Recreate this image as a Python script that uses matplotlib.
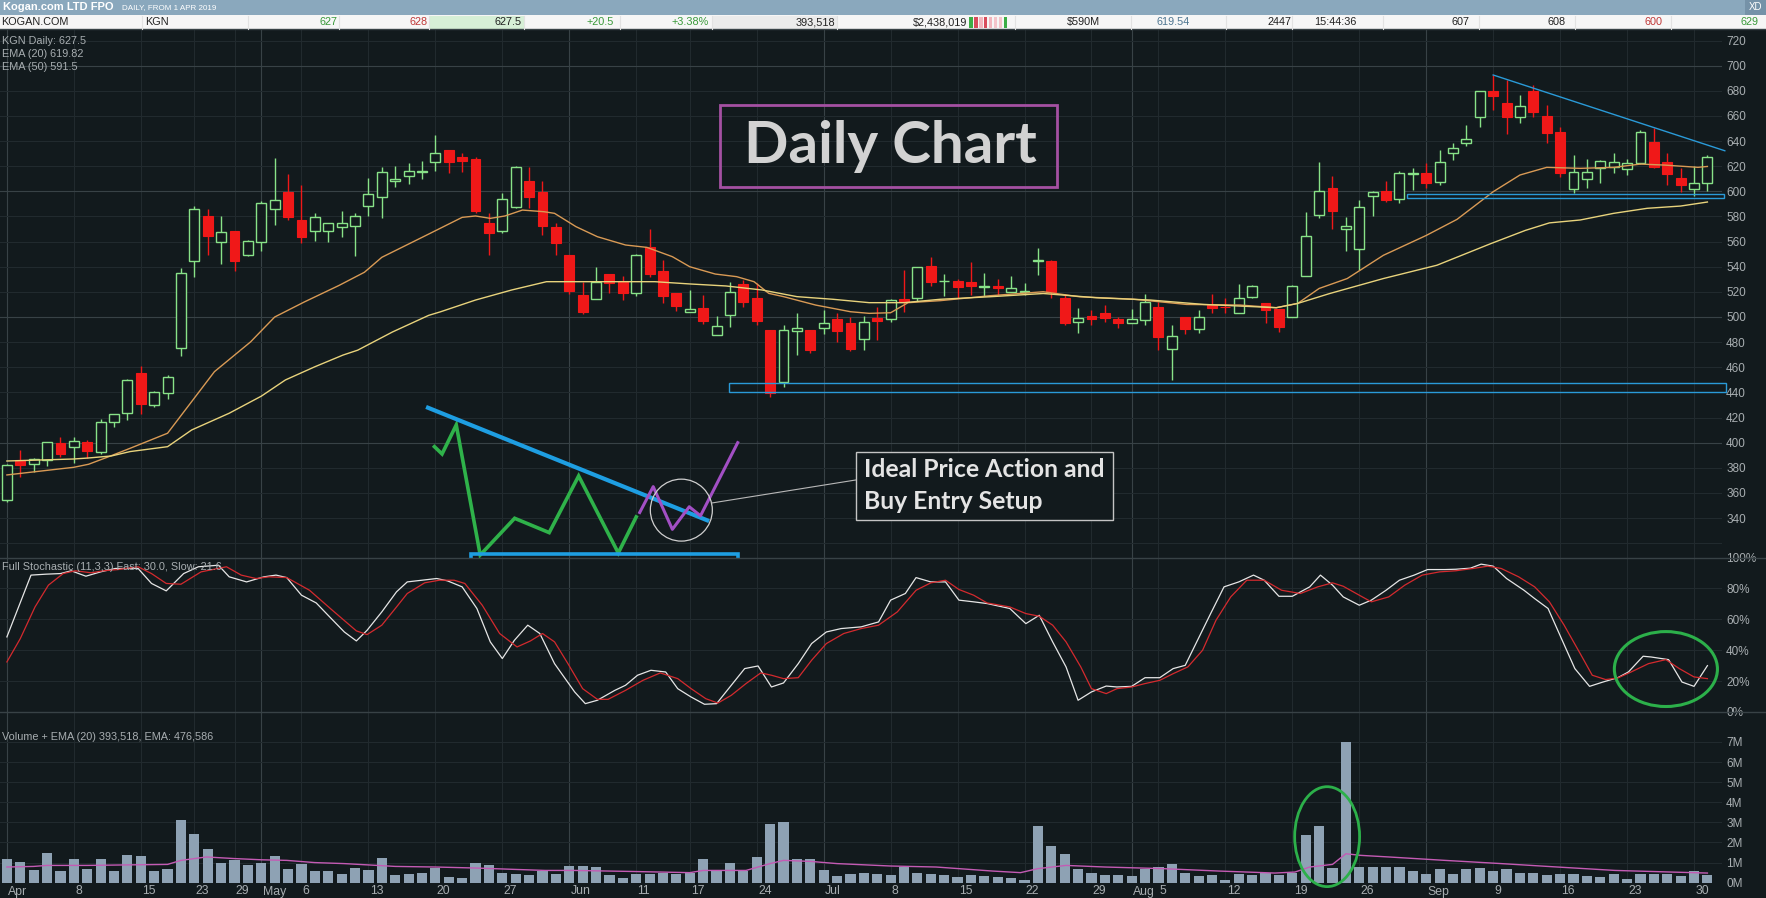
import numpy as np
import pandas as pd
import matplotlib
matplotlib.use("Agg")
import matplotlib.pyplot as plt
import matplotlib.transforms as mtransforms
from matplotlib.patches import Rectangle, Ellipse
from matplotlib.lines import Line2D

# Kogan.com (KGN) daily bars, 1 Apr 2019 - 1 Oct 2019
holidays = ["2019-04-19", "2019-04-22", "2019-04-25", "2019-06-10"]
first_day, last_day = "2019-04-01", "2019-10-01"

opens = [
    354.4, 386.2, 383.1, 386.2, 399.5, 396.8, 400.8, 392.9, 416.7, 423.4,
    455.7, 430.0, 439.8, 475.5, 544.9, 580.5, 559.9, 568.1, 549.6, 559.9,
    585.8, 599.7, 577.0, 568.1, 568.6, 572.0, 572.6, 588.4, 595.5, 608.1,
    611.9, 615.2, 623.5, 632.7, 627.4, 626.1, 575.2, 568.6, 587.9, 607.9,
    599.7, 571.9, 549.3, 517.5, 514.0, 534.0, 528.9, 518.8, 556.0, 536.6,
    518.8, 504.2, 506.9, 485.7, 501.6, 526.0, 514.9, 489.7, 448.5, 489.0,
    489.7, 491.0, 498.4, 494.9, 482.2, 498.9, 498.1, 514.0, 514.9, 540.6,
    528.5, 528.7, 527.6, 524.2, 524.8, 520.1, 520.0, 544.8, 544.6, 515.3,
    496.3, 500.8, 503.4, 498.2, 495.5, 497.6, 508.2, 474.7, 499.7, 490.5,
    509.5, 508.2, 502.9, 516.1, 510.8, 506.3, 500.3, 532.7, 581.5, 602.6,
    569.7, 553.8, 596.1, 600.3, 593.6, 614.0, 614.3, 607.7, 630.2, 638.2,
    659.4, 679.8, 670.5, 659.4, 679.8, 659.9, 647.2, 601.6, 609.5, 618.3,
    619.1, 617.5, 622.3, 639.0, 623.6, 610.3, 601.6, 607.0]
highs = [
    383.0, 394.2, 388.0, 400.5, 404.8, 404.8, 402.2, 418.6, 422.6, 450.5,
    461.0, 441.0, 453.8, 538.8, 588.4, 585.8, 580.5, 568.1, 561.0, 592.0,
    626.6, 614.2, 604.7, 583.1, 575.2, 584.4, 582.6, 610.3, 619.5, 620.0,
    622.7, 624.0, 645.1, 632.7, 630.6, 627.0, 583.1, 599.0, 620.0, 619.5,
    608.2, 575.0, 549.3, 528.0, 540.0, 534.0, 532.9, 550.0, 570.0, 545.3,
    518.8, 521.5, 517.5, 501.0, 528.1, 529.4, 526.8, 490.0, 493.6, 503.4,
    489.7, 505.6, 503.0, 500.0, 500.8, 508.2, 514.0, 537.4, 540.0, 548.0,
    534.2, 530.0, 544.0, 535.3, 530.6, 532.7, 527.4, 554.9, 545.0, 518.0,
    507.4, 505.5, 509.5, 500.0, 506.3, 518.7, 512.0, 493.6, 500.0, 505.5,
    518.0, 515.3, 526.6, 525.3, 511.0, 506.3, 525.3, 583.9, 623.0, 612.4,
    579.4, 593.4, 600.3, 608.5, 616.4, 618.3, 622.6, 632.6, 638.2, 652.7,
    680.0, 692.6, 688.6, 676.6, 684.6, 668.7, 651.4, 628.9, 625.7, 624.6,
    630.2, 625.5, 648.8, 650.1, 630.8, 618.3, 620.0, 629.0]
lows = [
    353.0, 373.0, 377.0, 381.5, 388.4, 383.6, 387.6, 391.0, 412.8, 418.0,
    422.8, 428.0, 435.0, 468.9, 532.2, 549.3, 542.2, 536.4, 548.8, 552.8,
    573.4, 577.0, 558.8, 560.7, 559.4, 563.3, 548.8, 580.5, 578.6, 603.4,
    605.5, 609.5, 616.1, 614.8, 615.3, 583.1, 549.6, 567.0, 587.0, 587.1,
    565.2, 549.3, 518.0, 502.0, 514.0, 518.8, 513.5, 517.0, 532.0, 510.9,
    504.8, 504.2, 494.4, 485.7, 492.3, 508.2, 493.6, 436.6, 444.0, 469.8,
    471.0, 486.5, 480.0, 473.2, 473.7, 481.7, 496.3, 504.2, 513.0, 524.7,
    517.0, 514.9, 517.5, 516.7, 517.9, 520.0, 517.4, 533.2, 515.3, 494.0,
    487.0, 493.6, 496.3, 491.6, 495.0, 493.6, 473.9, 450.1, 486.3, 487.0,
    502.9, 502.9, 502.9, 515.5, 495.0, 488.4, 500.0, 532.7, 578.9, 570.2,
    552.2, 537.2, 580.7, 591.8, 591.0, 601.0, 603.0, 605.0, 625.0, 636.0,
    651.4, 664.7, 645.6, 654.1, 659.4, 638.7, 611.7, 598.4, 602.4, 606.4,
    614.8, 613.0, 621.7, 618.3, 605.0, 599.7, 596.0, 600.0]
closes = [
    382.3, 382.0, 386.8, 400.3, 391.0, 401.4, 393.7, 416.7, 422.6, 449.5,
    430.6, 440.5, 452.2, 534.8, 585.8, 564.6, 567.8, 544.9, 560.2, 591.0,
    592.9, 579.7, 563.3, 579.2, 575.2, 575.2, 580.0, 598.2, 615.6, 610.0,
    616.1, 615.8, 630.6, 623.2, 624.0, 584.4, 566.8, 594.2, 619.5, 595.5,
    572.6, 558.6, 520.7, 504.2, 528.1, 527.3, 518.8, 549.3, 534.0, 517.0,
    509.0, 506.0, 496.8, 493.1, 520.2, 512.2, 497.1, 439.3, 489.7, 491.0,
    473.7, 494.9, 489.0, 474.5, 496.3, 496.8, 513.5, 512.2, 539.5, 528.1,
    528.9, 523.6, 524.7, 524.6, 522.7, 523.2, 520.4, 545.2, 520.1, 495.0,
    499.0, 498.4, 499.0, 495.0, 498.4, 512.1, 484.4, 485.2, 490.5, 500.3,
    507.4, 507.6, 514.8, 524.8, 505.5, 492.3, 524.8, 564.4, 600.5, 584.7,
    572.3, 587.3, 599.7, 593.1, 614.3, 614.3, 606.9, 623.1, 634.2, 641.6,
    679.8, 676.1, 659.4, 668.2, 663.4, 646.7, 614.3, 615.1, 615.1, 624.1,
    623.1, 622.3, 647.5, 619.6, 613.8, 605.0, 607.0, 627.5]
# volume in millions of shares
volume_m = [
    1.16, 1.01, 0.61, 1.46, 0.56, 1.16, 0.66, 1.16, 0.56, 1.36,
    1.31, 0.56, 0.66, 3.10, 2.40, 1.66, 0.96, 1.11, 0.86, 0.96,
    1.31, 0.66, 0.91, 0.56, 0.56, 0.41, 0.71, 0.61, 1.21, 0.36,
    0.41, 0.46, 0.71, 0.27, 0.22, 0.96, 0.86, 0.46, 0.41, 0.36,
    0.56, 0.41, 0.81, 0.81, 0.76, 0.36, 0.22, 0.41, 0.41, 0.46,
    0.41, 0.46, 1.16, 0.56, 0.96, 0.56, 1.26, 2.90, 3.00, 1.16,
    1.16, 0.61, 0.32, 0.41, 0.46, 0.41, 0.36, 0.78, 0.50, 0.45,
    0.40, 0.28, 0.36, 0.32, 0.28, 0.23, 0.15, 2.80, 1.81, 1.41,
    0.66, 0.50, 0.40, 0.36, 0.32, 0.66, 0.78, 0.95, 0.50, 0.32,
    0.36, 0.15, 0.41, 0.36, 0.48, 0.36, 0.48, 2.35, 2.80, 0.75,
    7.00, 0.78, 0.78, 0.78, 0.78, 0.56, 0.45, 0.66, 0.41, 0.66,
    0.73, 0.56, 0.70, 0.50, 0.50, 0.36, 0.45, 0.41, 0.32, 0.28,
    0.45, 0.20, 0.41, 0.41, 0.41, 0.32, 0.56, 0.39]

# indicator lines, read as (bar position, value) vertices
ema20_x = [0, 5, 6.1, 7.5, 9.2, 12, 15.5, 18.2, 20, 22.2, 24.8, 26.7, 28, 31.5, 34,
           35, 36.1, 37.2, 38.5, 40.1, 40.9, 42.5, 44.1, 46.2, 47.8, 49.7, 51, 52.9,
           54.5, 55.8, 56.9, 58, 60.4, 63, 64.4, 66, 67.3, 69.7, 73.4, 77.4, 80.1,
           84.1, 88.1, 92.1, 94.8, 96.4, 98, 100.1, 102.8, 106, 108.3, 111, 113,
           115, 117.5, 120, 122, 123.8, 126.3, 127]
ema20_y = [374.3, 380.4, 382.8, 388.4, 395.5, 407.5, 456.5, 480.2, 500, 511.9, 525.1,
           535.6, 547.5, 566, 579.3, 580.4, 578.5, 580.4, 585.1, 583.8, 582.5, 571.9,
           563.9, 557.3, 555.4, 548, 540, 534.2, 532.1, 528.1, 518.8, 516.2, 509.5,
           504.2, 502.9, 503.4, 511.4, 513, 516.9, 520.1, 516.1, 514.2, 510, 509.5,
           507.4, 510.8, 522.7, 530.6, 549.1, 564.9, 577.7, 599.7, 613, 619.1, 618.3,
           619.1, 621.7, 620.9, 619.1, 619.8]
ema50_x = [0, 5, 6.1, 7.8, 9.2, 12, 13.8, 16.6, 19, 20.8, 23, 25.1, 26.2, 28.8, 31.5,
           32.4, 35, 37.7, 40.3, 43, 48.4, 51, 53.7, 56.4, 59, 61.7, 64.4, 67, 69.7,
           73.4, 77.4, 81.4, 85.4, 89.4, 94.8, 96.4, 98.8, 102.8, 106.8, 110.8, 113.4,
           115.2, 117.5, 120, 122.5, 125, 127]
ema50_y = [385.4, 387, 387.8, 389.4, 392.9, 396.8, 410.1, 423.4, 437, 449.9, 460.4,
           469.7, 473.6, 488.1, 501.3, 504.2, 513.5, 521.5, 528.1, 528.1, 528.1, 526.3,
           524.7, 521.5, 516.2, 514.1, 511.4, 511.4, 514.1, 516.1, 518.7, 515.3, 513.5,
           510, 507.4, 510.8, 518.7, 530.6, 541.2, 558.3, 568.9, 574.9, 577.2, 582.5,
           586.5, 588.3, 591.5]

fast_x = [0, 1.8, 2.9, 4.0, 4.8, 5.9, 7.0, 8.1, 9.8, 10.8, 11.9, 13.2, 14.3, 15.8, 16.6,
          17.9, 19.2, 20.1, 20.9, 22.0, 23.1, 24.1, 25.2, 26.1, 26.9, 28.0, 29.1, 29.9,
          31.0, 32.1, 32.9, 34.0, 35.1, 36.1, 37.0, 37.9, 38.9, 39.8, 40.9, 42.4, 43.2,
          44.1, 45.4, 46.2, 47.1, 48.1, 49.2, 50.1, 51.1, 52.1, 53.0, 54.1, 55.1, 56.1,
          57.1, 58.0, 59.1, 60.1, 61.2, 62.3, 63.8, 65.1, 66.0, 67.1, 67.9, 69.0, 70.1,
          71.1, 72.2, 73.2, 74.9, 76.1, 77.1, 78.1, 79.1, 80.0, 81.0, 82.1, 82.9, 84.0,
          85.0, 86.1, 87.1, 88.0, 88.8, 89.9, 90.9, 92.0, 93.1, 93.9, 95.0, 96.0, 97.3,
          98.1, 99.0, 99.8, 101.0, 101.9, 103.0, 104.0, 105.1, 106.1, 107.4, 108.2,
          109.3, 110.1, 111.0, 112.0, 113.3, 114.1, 115.1, 116.1, 117.1, 118.2, 119.2,
          120.3, 121.1, 122.2, 122.8, 124.1, 125.1, 126.0, 127.0]
fast_y = [48.6, 88.6, 89.2, 89.6, 91.4, 87.9, 90.7, 92.9, 92.9, 83.2, 78.4, 89.6, 94.0,
          95.0, 87.5, 84.2, 87.5, 88.6, 87.0, 75.6, 70.6, 61.6, 51.8, 46.0, 52.9, 64.8,
          77.8, 84.2, 85.3, 86.4, 84.9, 81.0, 67.0, 45.4, 34.6, 46.4, 56.2, 50.8, 31.3,
          13.0, 5.4, 7.6, 14.0, 17.3, 23.8, 27.0, 25.9, 15.1, 9.7, 5.0, 5.4, 17.3, 28.1,
          29.8, 16.2, 18.8, 31.3, 44.3, 51.8, 54.0, 55.1, 58.3, 72.4, 76.7, 87.0, 84.2,
          84.2, 72.4, 71.3, 70.2, 67.0, 57.2, 62.6, 45.4, 29.2, 7.6, 13.0, 16.8, 16.2,
          16.6, 22.2, 22.2, 28.1, 30.2, 44.3, 63.7, 81.0, 84.2, 88.6, 85.3, 74.9, 74.9,
          81.0, 88.6, 82.1, 74.5, 69.1, 72.4, 78.8, 85.3, 88.6, 92.2, 92.2, 92.4, 93.1,
          95.7, 94.4, 86.4, 78.8, 73.4, 67.0, 47.5, 28.1, 16.6, 19.4, 22.2, 25.9, 36.1,
          35.6, 33.9, 19.4, 16.6, 30.0]
slow_x = [0, 1.0, 2.1, 3.1, 4.2, 5.1, 6.3, 7.2, 8.3, 9.8, 10.8, 11.9, 13.0, 14.5, 16.4,
          17.5, 18.6, 19.6, 20.9, 22.6, 24.3, 26.1, 26.9, 28.0, 29.1, 29.9, 31.2, 32.3,
          33.4, 34.2, 35.5, 36.8, 38.1, 39.1, 40.0, 40.9, 41.9, 43.0, 44.1, 44.9, 46.2,
          47.5, 48.8, 50.1, 51.1, 52.2, 53.1, 54.1, 55.2, 56.3, 57.1, 58.0, 59.1, 60.1,
          61.2, 62.5, 63.8, 65.1, 66.5, 67.9, 69.0, 70.1, 71.1, 72.2, 73.2, 74.9, 76.1,
          77.1, 78.1, 79.1, 80.2, 81.0, 82.1, 82.9, 84.0, 85.0, 86.1, 87.1, 88.2, 89.3,
          90.3, 91.4, 92.6, 93.9, 95.2, 96.6, 97.9, 99.0, 99.8, 101.0, 101.9, 103.2,
          104.4, 105.7, 107.0, 108.2, 109.5, 110.6, 111.6, 112.9, 114.1, 115.2, 116.3,
          117.5, 118.4, 119.4, 120.3, 121.3, 122.6, 123.9, 124.9, 126.0, 127.0]
slow_y = [32.4, 47.5, 68.0, 82.1, 89.6, 91.4, 90.1, 91.4, 92.2, 94.0, 89.6, 83.2, 82.7,
          90.7, 94.0, 88.6, 86.4, 87.5, 87.0, 78.8, 65.9, 52.5, 50.1, 56.2, 68.0, 76.7,
          83.6, 85.3, 85.3, 83.2, 69.1, 50.8, 42.1, 46.0, 50.8, 45.4, 31.3, 15.1, 8.2,
          8.2, 14.0, 20.5, 25.3, 21.6, 15.1, 8.6, 5.8, 10.8, 18.4, 25.3, 23.8, 21.6, 22.2,
          33.5, 44.3, 50.8, 54.0, 56.2, 64.8, 78.8, 83.6, 85.3, 79.3, 75.6, 70.6, 68.0,
          63.7, 62.0, 56.2, 45.4, 29.2, 15.1, 11.9, 15.1, 16.2, 18.4, 20.5, 24.8, 29.2,
          40.0, 59.4, 74.5, 85.3, 85.3, 78.8, 76.7, 81.0, 83.6, 81.4, 75.6, 71.3, 74.5,
          82.1, 88.6, 90.7, 91.4, 92.9, 94.4, 92.9, 87.5, 81.0, 71.3, 56.2, 37.8, 23.8,
          21.0, 22.0, 25.9, 31.3, 33.9, 28.1, 22.7, 21.6]

vema_x = [0, 2, 3, 6, 12, 13, 14.9, 17, 19, 20.9, 23, 25.2, 29, 32, 35, 38, 40.2, 42.3,
          46.6, 51, 52, 55.2, 57, 58, 60, 62, 66, 69.4, 73.6, 75.7, 77, 79.1, 82, 86.3,
          90.5, 94.7, 96.2, 97.3, 99, 100, 101.1, 103.2, 107.4, 111.6, 115.8, 120.1,
          124.3, 127]
vema_y = [0.78, 0.81, 0.86, 0.86, 0.91, 1.11, 1.28, 1.20, 1.14, 1.11, 1.00, 0.95, 0.81,
          0.78, 0.73, 0.66, 0.61, 0.61, 0.56, 0.50, 0.61, 0.61, 0.95, 1.11, 1.06, 0.95,
          0.83, 0.78, 0.58, 0.50, 0.70, 0.86, 0.78, 0.70, 0.58, 0.48, 0.53, 0.78, 0.91,
          1.44, 1.36, 1.28, 1.11, 0.95, 0.78, 0.61, 0.53, 0.48]

# quote strip at the top: (text, colour)
quote_cells = [("KOGAN.COM", "#222222"), ("KGN", "#222222"), ("627", "#3a9a3a"),
               ("628", "#c03838"), ("627.5", "#222222"), ("+20.5", "#3a9a3a"),
               ("+3.38%", "#3a9a3a"), ("393,518", "#222222"), ("$2,438,019", "#222222"),
               ("$590M", "#222222"), ("619.54", "#4d7590"), ("2447", "#222222"),
               ("15:44:36", "#222222"), ("607", "#222222"), ("608", "#222222"),
               ("600", "#c03838"), ("629", "#3a9a3a")]

# ---------------------------------------------------------------------------
BG = "#121a1d"
GRID = "#212a2e"
GRID_HI = "#384246"
TXT = "#a8aeb1"
UP = "#88e288"
DOWN = "#f01818"
NARROW = ["Liberation Sans Narrow", "Liberation Sans", "DejaVu Sans"]
plt.rcParams["font.family"] = NARROW
SMALL = 7.8

W, H = 1766, 898


def fx(px):
    return px / W


def fy(py):
    return 1 - py / H


o = np.array(opens)
h = np.array(highs)
l = np.array(lows)
c = np.array(closes)
idx = np.arange(len(c))

days = pd.bdate_range(first_day, last_day)
days = days[~days.isin(pd.to_datetime(holidays))]

# axis labels: month name on the first bar of a month, day number on the first bar of a week
ticks = []
for i in range(len(days) - 1):
    d = days[i]
    new_month = i == 0 or d.month != days[i - 1].month
    new_week = i == 0 or d.isocalendar()[1] != days[i - 1].isocalendar()[1]
    if new_month:
        ticks.append((i, d.strftime("%b"), True))
    elif new_week:
        ticks.append((i, str(d.day), False))

fig = plt.figure(figsize=(W / 100, H / 100), dpi=100, facecolor=BG)

ax_p = fig.add_axes([0, fy(557.5), fx(1722), fy(29) - fy(557.5)])
ax_s = fig.add_axes([0, fy(712), fx(1722), fy(557.5) - fy(712)])
ax_v = fig.add_axes([0, fy(882.7), fx(1722), fy(712) - fy(882.7)])

for ax in (ax_p, ax_s, ax_v):
    ax.set_facecolor(BG)
    ax.set_xlim(-0.515, 128.09)
    for s in ax.spines.values():
        s.set_visible(False)
    ax.set_xticks([])
    ax.yaxis.tick_right()
    ax.tick_params(axis="y", length=0, pad=3, labelsize=8.5, labelcolor=TXT)
    for i, lab, month in ticks:
        ax.axvline(i, color=GRID_HI if month else GRID, lw=0.8, zorder=0)

# price panel
ax_p.set_ylim(308.6, 729.2)
ax_p.set_yticks(range(340, 721, 20))
for v in range(320, 730, 20):
    ax_p.axhline(v, color=GRID_HI if v % 100 == 0 else GRID, lw=0.8, zorder=0)

up = c >= o
body_lo = np.minimum(o, c)
body_hi = np.maximum(o, c)
body_h = np.maximum(body_hi - body_lo, 0.5)
ax_p.vlines(idx[up], l[up], body_lo[up], color=UP, lw=1, zorder=2)
ax_p.vlines(idx[up], body_hi[up], h[up], color=UP, lw=1, zorder=2)
ax_p.bar(idx[up], body_h[up], bottom=body_lo[up], width=0.74,
         facecolor=BG, edgecolor=UP, lw=1, zorder=3)
ax_p.vlines(idx[~up], l[~up], h[~up], color=DOWN, lw=1, zorder=2)
ax_p.bar(idx[~up], body_h[~up], bottom=body_lo[~up], width=0.74,
         facecolor=DOWN, edgecolor=DOWN, lw=0.8, zorder=3)

ax_p.plot(ema20_x, ema20_y, color="#d99a55", lw=1, zorder=4)
ax_p.plot(ema50_x, ema50_y, color="#e8d37c", lw=1, zorder=4)

# support zones and falling trend line drawn on the chart
ax_p.add_patch(Rectangle((53.9, 440.6), 74.5, 6.6, fill=False, edgecolor="#2a9ad8",
                         lw=1, zorder=5, clip_on=False))
ax_p.add_patch(Rectangle((104.55, 594.5), 23.7, 3.7, fill=False, edgecolor="#2a9ad8",
                         lw=1, zorder=5, clip_on=False))
ax_p.plot([111, 128.3], [692.6, 632.3], color="#2a9ad8", lw=1, zorder=5, clip_on=False)

# "Daily Chart" title box
ax_p.add_patch(Rectangle((53.26, 603.4), 25.16, 65.3, fill=False, edgecolor="#a450a2",
                         lw=2, zorder=5))
ax_p.text(65.95, 622.3, "Daily Chart", family=["Lato", "DejaVu Sans"], fontweight="bold",
          fontsize=42, color="#d2d2d2", ha="center", va="baseline", zorder=6)

# hand-drawn sketch of the ideal setup
ax_p.plot([31.93, 32.5, 33.56, 35.35, 37.92, 40.5, 42.7, 45.66, 47.0],
          [396.8, 391.0, 414.1, 310.6, 339.8, 328.4, 373.5, 312.2, 340.9],
          color="#2fb24a", lw=2.6, zorder=6, clip_on=False, solid_joinstyle="miter")
ax_p.plot([31.45, 52.3], [427.8, 338.2], color="#1e9ee2", lw=3, zorder=6)
ax_p.add_patch(Rectangle((34.66, 305.9), 19.94, 5.5, fill=False, edgecolor="#1e9ee2",
                         lw=2.6, zorder=6, clip_on=False))
ax_p.plot([47.26, 48.27, 49.7, 50.96, 51.8, 54.58],
          [344.4, 365.0, 331.0, 349.0, 341.8, 400.0],
          color="#a24fc4", lw=2.2, zorder=6)
ax_p.add_patch(Ellipse((50.37, 346.3), 4.63, 49.3, fill=False, edgecolor="#cfcfcf",
                       lw=0.9, zorder=6))
ax_p.plot([52.66, 63.4], [352.0, 370.3], color="#b8b8b8", lw=0.8, zorder=6)
ax_p.add_patch(Rectangle((63.41, 338.5), 19.2, 54.1, facecolor=BG, edgecolor="#c4c4c4",
                         lw=1, zorder=6))
for txt, yv in (("Ideal Price Action and", 378.6), ("Buy Entry Setup", 352.8)):
    ax_p.text(64.0, yv, txt, family=["Lato", "DejaVu Sans"], fontweight="bold",
              fontsize=17.8, color="#e4e4e4", ha="left", va="center", zorder=7)

# stochastic panel
ax_s.set_ylim(0, 100)
ax_s.set_yticks(range(0, 101, 20))
ax_s.set_yticklabels([f"{v}%" for v in range(0, 101, 20)])
for v in (20, 40, 60, 80):
    ax_s.axhline(v, color=GRID, lw=0.8, zorder=0)
ax_s.plot(fast_x, fast_y, color="#e6e6e6", lw=0.9, zorder=3)
ax_s.plot(slow_x, slow_y, color="#d42a2e", lw=0.9, zorder=4)
ax_s.add_patch(Ellipse((123.9, 27.8), 7.7, 48.5, fill=False, edgecolor="#2cb04a",
                       lw=2.2, zorder=5))

# volume panel
ax_v.set_ylim(0, 8.49)
ax_v.set_yticks(range(0, 8))
ax_v.set_yticklabels([f"{v}M" for v in range(0, 8)])
for v in range(1, 8):
    ax_v.axhline(v, color=GRID, lw=0.8, zorder=0)
ax_v.bar(idx, volume_m, width=0.76, color="#8ea2b4", zorder=2)
ax_v.plot(vema_x, vema_y, color="#c45bb4", lw=1, zorder=3)
ax_v.add_patch(Ellipse((98.6, 2.29), 4.85, 4.97, fill=False, edgecolor="#2cb04a",
                       lw=2, zorder=5, clip_on=False))

# date labels under the volume panel
date_tr = mtransforms.blended_transform_factory(ax_v.transData, fig.transFigure)
for i, lab, month in ticks:
    ax_v.text(i + 0.1, fy(891.5), lab, transform=date_tr, color=TXT, fontsize=8.8,
              ha="left", va="center", clip_on=False)

# panel separators
for yy in (29.3, 557.5, 712):
    fig.add_artist(Line2D([0, 1], [fy(yy), fy(yy)], transform=fig.transFigure,
                          color=GRID_HI, lw=1))

# panel captions
fig.text(fx(2), fy(41), "KGN Daily: 627.5", color=TXT, fontsize=SMALL, va="center")
fig.text(fx(2), fy(54), "EMA (20) 619.82", color=TXT, fontsize=SMALL, va="center")
fig.text(fx(2), fy(67), "EMA (50) 591.5", color=TXT, fontsize=SMALL, va="center")
fig.text(fx(2), fy(567.5), "Full Stochastic (11,3,3) Fast: 30.0, Slow: 21.6",
         color=TXT, fontsize=SMALL, va="center")
fig.text(fx(2), fy(737), "Volume + EMA (20) 393,518, EMA: 476,586",
         color=TXT, fontsize=SMALL, va="center")


# title bar and quote strip
def fig_rect(x0, y0, x1, y1, color):
    fig.add_artist(Rectangle((fx(x0), fy(y1)), fx(x1) - fx(x0), fy(y0) - fy(y1),
                             transform=fig.transFigure, color=color, lw=0))


fig_rect(0, 0, W, 15, "#8aa8bd")
fig_rect(1745, 0, W, 15, "#7592a8")
fig.text(fx(3), fy(7.5), "Kogan.com LTD FPO", color="white", fontsize=8,
         fontweight="bold", va="center")
fig.text(fx(122), fy(8), "DAILY, FROM 1 APR 2019", color="white", fontsize=5.8, va="center")
fig.text(fx(1749), fy(7.5), "XD", color="white", fontsize=7, va="center")

fig_rect(0, 15, W, 29.3, "#f6f6f6")
fig_rect(429, 15.5, 524, 29, "#d6efd6")
fig_rect(712, 15.5, 837, 29, "#ebebeb")
for sx in (142, 248, 339, 429, 524, 620, 712, 837, 1015, 1131, 1226, 1292, 1383,
           1479, 1575, 1671):
    fig.add_artist(Line2D([fx(sx), fx(sx)], [fy(16), fy(28.5)], transform=fig.transFigure,
                          color="#e2e2e2", lw=0.8))
stripe_cols = ["#3cae46", "#d84c5c", "#f2b6be", "#d84c5c", "#f2b6be", "#f4c4ca",
               "#f4c4ca", "#3cae46"]
for k, col in enumerate(stripe_cols):
    fig_rect(969 + 5 * k, 16.5, 972.5 + 5 * k, 28, col)

quote_x = [1, 145, 337.5, 427.7, 522, 614, 709, 835, 967.6, 1100, 1189.6, 1291, 1357,
           1470, 1566, 1662.5, 1758.5]
for k, ((txt, col), xx) in enumerate(zip(quote_cells, quote_x)):
    fig.text(fx(xx), fy(22.3), txt, color=col, fontsize=SMALL, va="center",
             ha="left" if k < 2 else "right")

fig.savefig("out.png", dpi=100, facecolor=BG)
